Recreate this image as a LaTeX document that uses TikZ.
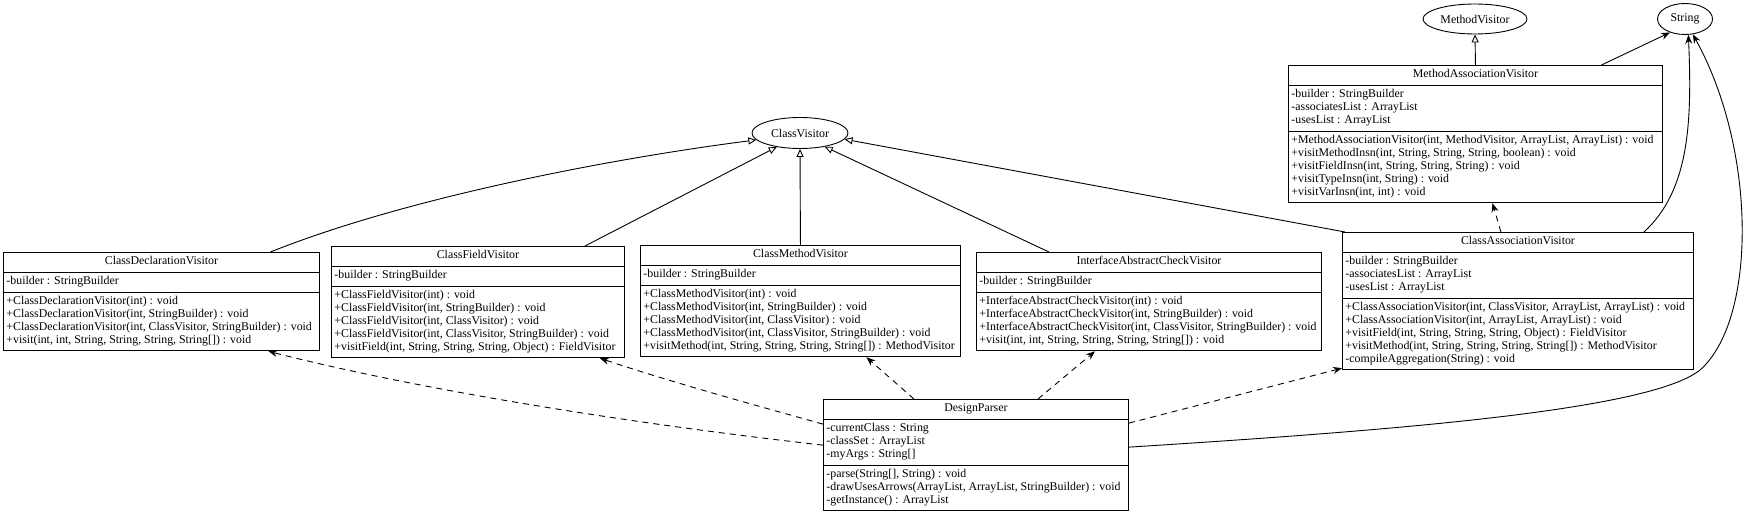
\documentclass[tikz,border=0pt]{standalone}
\usepackage{fontspec}
\setmainfont{Liberation Serif}
\usetikzlibrary{shapes.multipart,shapes.geometric,arrows.meta}
\begin{document}
\begin{tikzpicture}[x=1bp,y=-1bp,
  every node/.style={font=\fontsize{11.9}{13}\selectfont},
  umlclass/.style={draw, line width=0.9bp, rectangle split, rectangle split parts=3,
    rectangle split part align={center,left,left}, align=left, anchor=north west,
    inner xsep=3bp, inner ysep=3bp},
  iface/.style={draw, ellipse, line width=0.9bp, inner sep=0pt},
  inherit/.style={line width=0.9bp, -{Triangle[open,length=8bp,width=7bp]}},
  uses/.style={line width=0.9bp, dash pattern=on 6bp off 5bp, -{Stealth[length=9bp,width=7bp,inset=3bp]}},
  assoc/.style={line width=0.9bp, -{Stealth[length=9bp,width=7bp,inset=3bp]}},
]
\useasboundingbox[fill=white] (0,0) rectangle (1745,513);

% interfaces / external classes
\node[iface, minimum width=96bp, minimum height=31bp] (cv) at (800,133) {ClassVisitor};
\node[iface, minimum width=104bp, minimum height=30bp] (mv) at (1475,19) {MethodVisitor};
\node[iface, minimum width=55bp, minimum height=31bp] (str) at (1685,19) {String};

% classes
\node[umlclass, minimum width=316bp] (cdv) at (3,252) {\strut ClassDeclarationVisitor
 \nodepart{two}\strut -builder : StringBuilder
 \nodepart{three}\strut +ClassDeclarationVisitor(int) : void\\
 \strut +ClassDeclarationVisitor(int, StringBuilder) : void\\
 \strut +ClassDeclarationVisitor(int, ClassVisitor, StringBuilder) : void\\
 \strut +visit(int, int, String, String, String, String[]) : void};

\node[umlclass, minimum width=293bp] (cfv) at (331,246) {\strut ClassFieldVisitor
 \nodepart{two}\strut -builder : StringBuilder
 \nodepart{three}\strut +ClassFieldVisitor(int) : void\\
 \strut +ClassFieldVisitor(int, StringBuilder) : void\\
 \strut +ClassFieldVisitor(int, ClassVisitor) : void\\
 \strut +ClassFieldVisitor(int, ClassVisitor, StringBuilder) : void\\
 \strut +visitField(int, String, String, String, Object) : FieldVisitor};

\node[umlclass, minimum width=320bp] (cmv) at (640,245) {\strut ClassMethodVisitor
 \nodepart{two}\strut -builder : StringBuilder
 \nodepart{three}\strut +ClassMethodVisitor(int) : void\\
 \strut +ClassMethodVisitor(int, StringBuilder) : void\\
 \strut +ClassMethodVisitor(int, ClassVisitor) : void\\
 \strut +ClassMethodVisitor(int, ClassVisitor, StringBuilder) : void\\
 \strut +visitMethod(int, String, String, String, String[]) : MethodVisitor};

\node[umlclass, minimum width=345bp] (iacv) at (976,252) {\strut InterfaceAbstractCheckVisitor
 \nodepart{two}\strut -builder : StringBuilder
 \nodepart{three}\strut +InterfaceAbstractCheckVisitor(int) : void\\
 \strut +InterfaceAbstractCheckVisitor(int, StringBuilder) : void\\
 \strut +InterfaceAbstractCheckVisitor(int, ClassVisitor, StringBuilder) : void\\
 \strut +visit(int, int, String, String, String, String[]) : void};

\node[umlclass, minimum width=351bp] (cav) at (1342,232) {\strut ClassAssociationVisitor
 \nodepart{two}\strut -builder : StringBuilder\\
 \strut -associatesList : ArrayList\\
 \strut -usesList : ArrayList
 \nodepart{three}\strut +ClassAssociationVisitor(int, ClassVisitor, ArrayList, ArrayList) : void\\
 \strut +ClassAssociationVisitor(int, ArrayList, ArrayList) : void\\
 \strut +visitField(int, String, String, String, Object) : FieldVisitor\\
 \strut +visitMethod(int, String, String, String, String[]) : MethodVisitor\\
 \strut -compileAggregation(String) : void};

\node[umlclass, minimum width=374bp] (mav) at (1288,65) {\strut MethodAssociationVisitor
 \nodepart{two}\strut -builder : StringBuilder\\
 \strut -associatesList : ArrayList\\
 \strut -usesList : ArrayList
 \nodepart{three}\strut +MethodAssociationVisitor(int, MethodVisitor, ArrayList, ArrayList) : void\\
 \strut +visitMethodInsn(int, String, String, String, boolean) : void\\
 \strut +visitFieldInsn(int, String, String, String) : void\\
 \strut +visitTypeInsn(int, String) : void\\
 \strut +visitVarInsn(int, int) : void};

\node[umlclass, minimum width=305bp] (dp) at (823,399) {\strut DesignParser
 \nodepart{two}\strut -currentClass : String\\
 \strut -classSet : ArrayList\\
 \strut -myArgs : String[]
 \nodepart{three}\strut -parse(String[], String) : void\\
 \strut -drawUsesArrows(ArrayList, ArrayList, StringBuilder) : void\\
 \strut -getInstance() : ArrayList};

% inheritance
\draw[inherit] ([xshift=109bp]cdv.north) .. controls (400,200) and (600,160) .. (cv.189);
\draw[inherit] ([xshift=107bp]cfv.north) -- (cv.211);
\draw[inherit] (cmv.north) -- (cv.south);
\draw[inherit] ([xshift=-100bp]iacv.north) -- (cv.331);
\draw[inherit] ([xshift=3bp]cav.north west) -- (cv.352);
\draw[inherit] (mav.north) -- (mv.south);

% associations to String
\draw[assoc] ([xshift=126bp]mav.north) -- (str.222);
\draw[assoc] ([xshift=126bp]cav.north) .. controls (1690,190) and (1692,120) .. (str.282);
\draw[assoc] ([yshift=8bp]dp.east) .. controls (1400,430) and (1650,410) .. (1700,370)
   .. controls (1757,320) and (1757,150) .. (str.297);

% uses (dashed)
\draw[uses] ([xshift=-17bp]cav.north) -- ([xshift=17bp]mav.south);
\draw[uses] ([yshift=10bp]dp.west) .. controls (600,420) and (400,385) .. ([xshift=107bp]cdv.south);
\draw[uses] ([yshift=31bp]dp.west) .. controls (780,412) and (680,385) .. ([xshift=122bp]cfv.south);
\draw[uses] ([xshift=-62bp]dp.north) -- ([xshift=66bp]cmv.south);
\draw[uses] ([xshift=62bp]dp.north) -- ([xshift=-54bp]iacv.south);
\draw[uses] ([yshift=32bp]dp.east) -- ([yshift=2bp]cav.south west);
\end{tikzpicture}
\end{document}
